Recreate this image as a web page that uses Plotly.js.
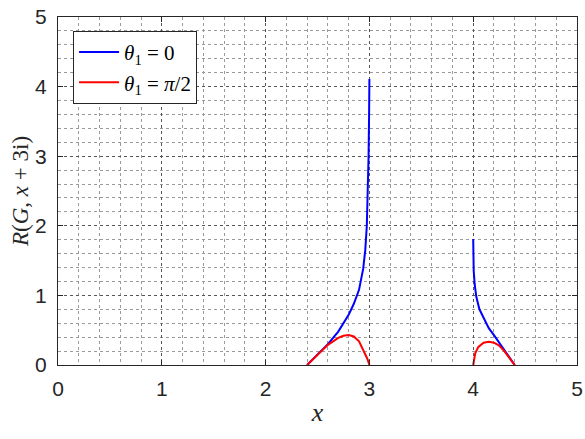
<!DOCTYPE html>
<html>
<head>
<meta charset="utf-8">
<script src="https://cdn.plot.ly/plotly-3.0.1.min.js"></script>
<style>
	body { margin:0; background:#fff; }
	#chart { width:585px; height:439px; }
</style>
</head>
<body>
<div id="chart"></div>
<script>
// theta1 = 0, first branch (x from 2.4 up to the pole at 3)
const blueX1 = [2.4, 2.5, 2.6, 2.7, 2.8, 2.85, 2.9, 2.94, 2.96, 2.975, 2.985, 2.992, 2.997, 3.0];
const blueY1 = [0, 0.15, 0.30, 0.48, 0.72, 0.88, 1.08, 1.38, 1.65, 2.0, 2.45, 3.0, 3.6, 4.11];
// theta1 = 0, second branch
const blueX2 = [4.0, 4.001, 4.005, 4.015, 4.03, 4.06, 4.1, 4.15, 4.2, 4.25, 4.3, 4.35, 4.4];
const blueY2 = [1.81, 1.6, 1.35, 1.15, 0.98, 0.8, 0.67, 0.53, 0.43, 0.32, 0.21, 0.1, 0];
// theta1 = pi/2
const redX1 = [2.4, 2.5, 2.6, 2.7, 2.75, 2.8, 2.85, 2.9, 2.95, 2.98, 3.0];
const redY1 = [0, 0.15, 0.29, 0.39, 0.42, 0.43, 0.41, 0.34, 0.19, 0.09, 0];
const redX2 = [4.0, 4.02, 4.05, 4.1, 4.15, 4.2, 4.25, 4.3, 4.35, 4.4];
const redY2 = [0, 0.17, 0.26, 0.32, 0.335, 0.32, 0.28, 0.2, 0.1, 0];

const tickVals = [0, 1, 2, 3, 4, 5];

const serif = 'Liberation Serif, DejaVu Serif, serif';
const sans = 'Liberation Sans, Arial, sans-serif';

// join two branches with a gap between them
const joined = (a, b) => a.concat([null], b);

let data = [
	{
		x: joined(blueX1, blueX2),
		y: joined(blueY1, blueY2),
		mode: 'lines',
		type: 'scatter',
		name: '<i>θ</i><sub>1</sub> = 0',
		line: {color: '#0000ff', width: 2},
		connectgaps: false
	},
	{
		x: joined(redX1, redX2),
		y: joined(redY1, redY2),
		mode: 'lines',
		type: 'scatter',
		name: '<i>θ</i><sub>1</sub> = <i>π</i>/2',
		line: {color: '#ff0000', width: 2},
		connectgaps: false
	}
];

const axisStyle = {
	range: [0, 5],
	tickvals: tickVals,
	ticks: 'inside',
	ticklen: 5,
	tickcolor: '#262626',
	showline: true,
	linecolor: '#262626',
	linewidth: 1,
	mirror: 'ticks',
	showgrid: true,
	gridcolor: '#555555',
	griddash: 'dot',
	gridwidth: 1,
	zeroline: false,
	tickfont: {family: sans, size: 21, color: '#262626'},
	minor: {dtick: 0.2, showgrid: true, gridcolor: '#9a9a9a', griddash: 'dot', gridwidth: 1, ticks: ''}
};

let layout = {
	width: 585,
	height: 439,
	margin: {l: 58, r: 8, t: 17, b: 74},
	paper_bgcolor: '#ffffff',
	plot_bgcolor: '#ffffff',
	showlegend: true,
	legend: {
		x: 0.029, y: 0.96,
		xanchor: 'left', yanchor: 'top',
		bgcolor: '#ffffff',
		bordercolor: '#262626',
		borderwidth: 1,
		itemwidth: 40,
		font: {family: serif, size: 21, color: '#000000'},
		tracegroupgap: 0
	},
	xaxis: Object.assign({}, axisStyle, {
		ticklabelstandoff: 5,
		title: {text: '<i>x</i>', font: {family: serif, size: 26, color: '#262626'}, standoff: 3}
	}),
	yaxis: Object.assign({}, axisStyle, {
		ticklabelstandoff: 6,
		title: {text: '<i>R</i>(<i>G</i>, <i>x</i> + 3i)', font: {family: serif, size: 23, color: '#262626'}, standoff: 0}
	})
};

Plotly.newPlot(document.querySelector('#chart'), data, layout, {displayModeBar: false});
</script>
</body>
</html>
